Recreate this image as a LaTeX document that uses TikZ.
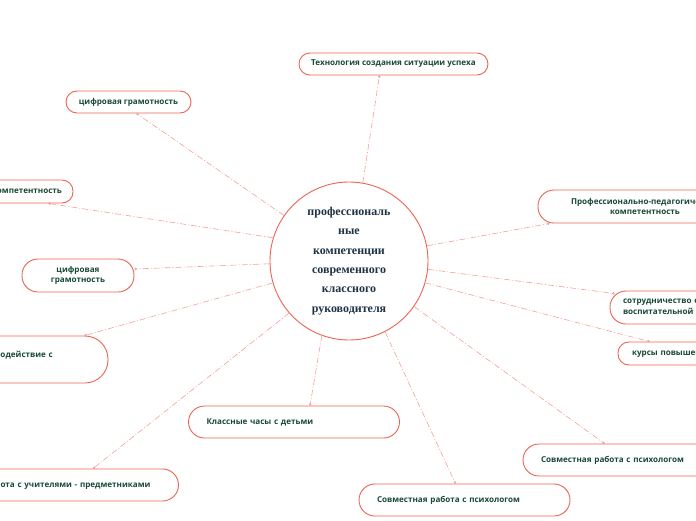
\documentclass[tikz,border=0pt]{standalone}
\usepackage{fontspec}
\setmainfont{Liberation Serif}
\setsansfont{Open Sans}
\usetikzlibrary{arrows.meta}
\definecolor{boxred}{RGB}{236,98,84}
\definecolor{linkred}{RGB}{244,160,150}
\definecolor{txtgreen}{RGB}{24,72,56}
\definecolor{hubtxt}{RGB}{30,50,68}

\begin{document}
\begin{tikzpicture}[
    x=1pt, y=-1pt, font=\sffamily\bfseries\fontsize{8.1}{10.6}\selectfont,
    hub/.style={circle, draw=boxred, line width=0.9pt, minimum size=158pt, inner sep=0pt,
      align=center, text=hubtxt, font=\rmfamily\bfseries\fontsize{12}{19.4}\selectfont},
    topic/.style={rectangle, draw=boxred, line width=0.9pt, rounded corners=11pt,
      text=txtgreen, align=center, inner sep=0pt, minimum height=22pt},
    topic2/.style={topic, rounded corners=16pt, minimum height=33pt},
    wide/.style={topic, rounded corners=16pt, minimum height=32pt, align=left,
      inner xsep=18pt, text width=175pt},
    link/.style={draw=linkred, line width=0.6pt, dash pattern=on 6pt off 2pt on 1pt off 2pt,
      -{Circle[length=2.4pt, fill=linkred]}}]
  \useasboundingbox (0,0) rectangle (696,520);
  \clip (0,0) rectangle (696,520);
  \node[hub] (ctr) at (349,261) {профессиональ\\ные\\компетенции\\современного\\классного\\руководителя};
  \node[topic, minimum width=189pt] (tech) at (393.5,64) {Технология создания ситуации успеха};
  \node[topic, minimum width=125pt] (dig1) at (128.5,102) {цифровая грамотность};
  \node[topic, minimum width=92pt, minimum height=23pt] (komp) at (27,191.5) {компетентность};
  \node[topic2, minimum width=112pt] (dig2) at (78,275.5) {цифровая\\грамотность};
  \node[topic, rounded corners=23pt, minimum height=47pt, inner xsep=18pt, text width=117pt,
    align=left] (vz) at (31.5,359.5) {Взаимодействие с\\\mbox{}};
  \node[wide] (rab) at (73,485) {Работа с учителями - предметниками};
  \node[wide] (kl) at (294,422) {Классные часы с детьми};
  \node[wide] (sp1) at (464.5,500) {Совместная работа с психологом};
  \node[wide] (sp2) at (628.5,460) {Совместная работа с психологом};
  \node[topic2, minimum width=214pt] (prof) at (645,206.5) {Профессионально-педагогическая\\компетентность};
  \node[topic2, inner xsep=13pt, text width=160pt, align=left] (sotr) at (703,307.5)
    {сотрудничество с заместителем по\\воспитательной работе};
  \node[topic, inner xsep=14pt, text width=150pt, align=left, minimum height=23pt] (kurs)
    at (707,353.5) {курсы повышения квалификации};
  \draw[link] (ctr.80.5) -- ([xshift=-14pt]tech.south);
  \draw[link] (ctr.145.5) -- ([xshift=8pt]dig1.south);
  \draw[link] (ctr.163.6) -- ([xshift=-25pt]komp.south east);
  \draw[link] (ctr.182) -- ([yshift=6.5pt]dig2.east);
  \draw[link] (ctr.196.8) -- ([xshift=-24pt]vz.north east);
  \draw[link] (ctr.221) -- ([xshift=-86pt]rab.north east);
  \draw[link] (ctr.250) -- ([xshift=16pt]kl.north);
  \draw[link] (ctr.297) -- ([xshift=-9pt]sp1.north);
  \draw[link] (ctr.325) -- ([xshift=82pt]sp2.north west);
  \draw[link] (ctr.11.6) -- ([xshift=12pt]prof.south west);
  \draw[link] (ctr.-6.5) -- ([xshift=5pt, yshift=-3pt]sotr.north west);
  \draw[link] (ctr.-16.8) -- ([xshift=32pt]kurs.north west);
\end{tikzpicture}
\end{document}
